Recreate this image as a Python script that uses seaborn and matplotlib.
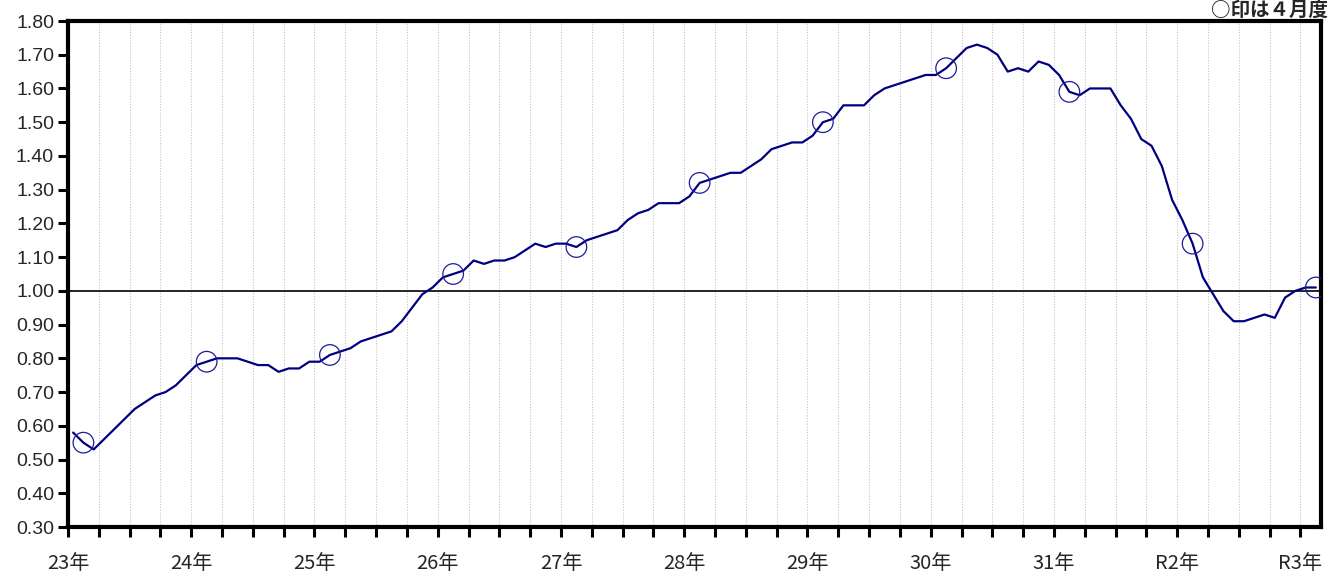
import matplotlib
matplotlib.use("Agg")
import matplotlib.pyplot as plt
import seaborn as sns
import pandas as pd

# ---------------------------------------------------
# DATA  (monthly, from H23.3 to R3.4)
# ---------------------------------------------------

ratio = [
    0.58, 0.55, 0.53, 0.56, 0.59, 0.62, 0.65, 0.67, 0.69, 0.70, 0.72, 0.75,
    0.78, 0.79, 0.80, 0.80, 0.80, 0.79, 0.78, 0.78, 0.76, 0.77, 0.77, 0.79,
    0.79, 0.81, 0.82, 0.83, 0.85, 0.86, 0.87, 0.88, 0.91, 0.95, 0.99, 1.01,
    1.04, 1.05, 1.06, 1.09, 1.08, 1.09, 1.09, 1.10, 1.12, 1.14, 1.13, 1.14,
    1.14, 1.13, 1.15, 1.16, 1.17, 1.18, 1.21, 1.23, 1.24, 1.26, 1.26, 1.26,
    1.28, 1.32, 1.33, 1.34, 1.35, 1.35, 1.37, 1.39, 1.42, 1.43, 1.44, 1.44,
    1.46, 1.50, 1.51, 1.55, 1.55, 1.55, 1.58, 1.60, 1.61, 1.62, 1.63, 1.64,
    1.64, 1.66, 1.69, 1.72, 1.73, 1.72, 1.70, 1.65, 1.66, 1.65, 1.68, 1.67,
    1.64, 1.59, 1.58, 1.60, 1.60, 1.60, 1.55, 1.51, 1.45, 1.43, 1.37, 1.27,
    1.21, 1.14, 1.04, 0.99, 0.94, 0.91, 0.91, 0.92, 0.93, 0.92, 0.98, 1.00,
    1.01, 1.01,
]

year_labels = ["23年", "24年", "25年", "26年", "27年", "28年",
               "29年", "30年", "31年", "R2年", "R3年"]

first_month = 3      # series starts in March
april = 4

df = pd.DataFrame({"idx": range(len(ratio)), "ratio": ratio})
df["month"] = (df["idx"] + first_month - 1) % 12 + 1
april_df = df[df["month"] == april]

# ---------------------------------------------------
# STYLE
# ---------------------------------------------------

sns.set_style("white")
plt.rcParams["font.family"] = ["Liberation Sans", "Noto Sans CJK JP", "DejaVu Sans"]

line_color = "#000080"
circle_color = "#1c1c9c"

fig = plt.figure(figsize=(13.3, 5.74), dpi=100)
ax = fig.add_axes([68 / 1330, 1 - 527 / 574, (1321 - 68) / 1330, (527 - 21) / 574])

# ---------------------------------------------------
# PLOT
# ---------------------------------------------------

ax.axhline(1.0, color="black", linewidth=1.2, zorder=1)

sns.lineplot(data=df, x="idx", y="ratio", color=line_color,
             linewidth=1.6, ax=ax, zorder=3)

sns.scatterplot(data=april_df, x="idx", y="ratio", marker="o", s=220,
                facecolor="none", edgecolor=circle_color, linewidth=0.9,
                ax=ax, zorder=4)

# ---------------------------------------------------
# AXES
# ---------------------------------------------------

ax.set_xlim(-0.5, len(ratio) - 0.5)
ax.set_ylim(0.30, 1.80)

qticks = [q - 0.5 for q in range(0, len(ratio), 3)]
ax.set_xticks(qticks)
ax.set_xticklabels([year_labels[k // 4] if k % 4 == 0 else ""
                    for k in range(len(qticks))],
                   family=["Noto Sans CJK JP"], fontsize=14.5)
for lab in ax.get_xticklabels():
    lab.set_x(lab.get_position()[0])
ax.xaxis.grid(True, color="#c4c4c4", linestyle=(0, (1, 1.5)), linewidth=0.8)
ax.yaxis.grid(False)

yt = [0.30 + 0.10 * k for k in range(16)]
ax.set_yticks(yt)
ax.set_yticklabels([f"{v:.2f}" for v in yt], fontsize=14)

ax.tick_params(axis="both", direction="out", length=7, width=2.2,
               color="black", left=True, bottom=True)
ax.tick_params(axis="x", pad=12)
ax.tick_params(axis="y", pad=3)

for sp in ax.spines.values():
    sp.set_linewidth(3)
    sp.set_color("black")

ax.set_xlabel("")
ax.set_ylabel("")

fig.text(1.0 - 2 / 1330, 1 - 1 / 574, "○印は４月度", ha="right", va="top",
         fontsize=14, fontweight="bold", family=["Noto Sans CJK JP"])

fig.savefig("out.png", dpi=100)
